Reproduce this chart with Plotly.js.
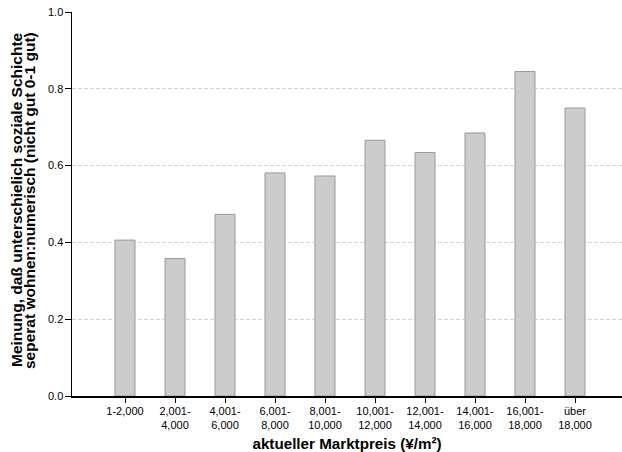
<!DOCTYPE html>
<html>
<head>
<meta charset="utf-8">
<script src="https://cdn.plot.ly/plotly-3.0.1.min.js"></script>
<style>html,body{margin:0;padding:0;background:#fff;}#chart{width:622px;height:452px;}</style>
</head>
<body>
<div id="chart"></div>
<script>
const categories = ["1-2,000","2,001-<br>4,000","4,001-<br>6,000","6,001-<br>8,000","8,001-<br>10,000","10,001-<br>12,000","12,001-<br>14,000","14,001-<br>16,000","16,001-<br>18,000","über<br>18,000"];
const values = [0.406, 0.358, 0.473, 0.581, 0.573, 0.666, 0.634, 0.685, 0.845, 0.750];
const yTicks = [0, 0.2, 0.4, 0.6, 0.8, 1.0];
const yTickLabels = ["0.0","0.2","0.4","0.6","0.8","1.0"];
const xTitle = "aktueller Marktpreis (¥/m²)";
const yTitleLines = ["Meinung, daß unterschielich soziale Schichte", "seperat wohnen:numerisch (nicht gut 0-1 gut)"];

const trace = {
  type: "bar",
  x: categories.map((c, i) => i),
  y: values,
  width: 0.4,
  marker: {color: "#cccccc", line: {color: "#999999", width: 1}},
  hoverinfo: "none"
};

const titleFont = {size: 15.5, family: "Liberation Sans, Arial, sans-serif", weight: "bold", color: "#000"};
const yTitlePos = [-0.1018, -0.0782];

const layout = {
  width: 622, height: 452,
  margin: {l: 72, r: 0, t: 12, b: 56},
  paper_bgcolor: "#ffffff",
  plot_bgcolor: "#ffffff",
  font: {family: "Liberation Sans, Arial, sans-serif", size: 11, color: "#000"},
  showlegend: false,
  xaxis: {
    range: [-1.06, 9.94],
    tickmode: "array",
    tickvals: categories.map((c, i) => i),
    ticktext: categories,
    ticks: "outside", ticklen: 5, tickcolor: "#000", tickwidth: 1,
    showline: true, linecolor: "#000", linewidth: 1.5,
    showgrid: false, zeroline: false,
    tickfont: {size: 11},
    ticklabelstandoff: -1,
    title: {text: xTitle, font: {size: 15.2, family: "Liberation Sans, Arial, sans-serif", weight: "bold"}, standoff: 9}
  },
  yaxis: {
    range: [0, 1.0],
    tickmode: "array",
    tickvals: yTicks,
    ticktext: yTickLabels,
    ticks: "outside", ticklen: 6, tickcolor: "#000", tickwidth: 1,
    showline: true, linecolor: "#000", linewidth: 1.5,
    showgrid: true, gridcolor: "#d4d4d4", griddash: "4px,2px", gridwidth: 1,
    zeroline: false,
    tickfont: {size: 11},
    ticklabelstandoff: -1
  },
  annotations: yTitleLines.map((t, i) => ({
    text: t, textangle: -90, showarrow: false,
    xref: "paper", yref: "paper", x: yTitlePos[i], y: 0.5104,
    xanchor: "center", yanchor: "middle",
    font: titleFont
  }))
};

Plotly.newPlot("chart", [trace], layout, {displayModeBar: false, staticPlot: true});
</script>
</body>
</html>
